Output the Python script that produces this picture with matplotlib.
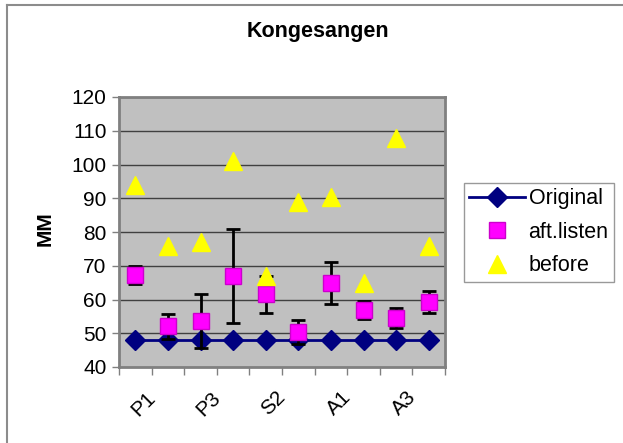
import matplotlib
matplotlib.use('Agg')
import matplotlib.pyplot as plt
import matplotlib.transforms as mtransforms
from matplotlib.lines import Line2D

# Data
categories = ['P1', 'P2', 'P3', 'S1', 'S2', 'S3', 'A1', 'A2', 'A3', 'A4']
original = [48, 48, 48, 48, 48, 48, 48, 48, 48, 48]
aft_listen = [67.3, 52.1, 53.5, 67, 61.5, 50.4, 65, 57, 54.6, 59.3]
aft_err = [2.7, 3.7, 8.0, 14.0, 5.5, 3.6, 6.2, 2.7, 3.0, 3.2]
before = [94, 76, 77, 101, 67, 89, 90.5, 65, 108, 76]

x = list(range(len(categories)))

plt.rcParams['font.family'] = ['Liberation Sans', 'DejaVu Sans']

fig = plt.figure(figsize=(6.23, 4.43), dpi=100)
ax = fig.add_axes([119 / 623, 1 - 367 / 443, 326 / 623, 270 / 443])
ax.set_facecolor('#c0c0c0')

# Outer chart border (only left and top are visible in the crop)
bx, by = 7 / 623, 1 - 5 / 443
fig.lines.append(Line2D([bx, bx], [0, by], transform=fig.transFigure,
                        color='#8c8c8c', linewidth=1.5))
fig.lines.append(Line2D([bx, 1], [by, by], transform=fig.transFigure,
                        color='#8c8c8c', linewidth=1.5))

# Gridlines
for v in range(50, 121, 10):
    ax.axhline(v, color='#404040', linewidth=1, zorder=1)

ax.plot(x, original, color='#000080', marker='D', markersize=10,
        linewidth=2, label='Original', zorder=3)
ax.errorbar(x, aft_listen, yerr=aft_err, fmt='none', ecolor='black',
            elinewidth=2, capsize=5, capthick=2, zorder=4)
ax.plot(x, aft_listen, linestyle='none', marker='s', markersize=11.5,
        color='#ff00ff', markeredgecolor='#cc00cc', label='aft.listen', zorder=5)
ax.plot(x, before, linestyle='none', marker='^', markersize=13,
        color='#ffff00', markeredgecolor='#ffff00', label='before', zorder=5)

ax.set_xlim(-0.5, len(categories) - 0.5)
ax.set_ylim(40, 120)
ax.set_yticks(range(40, 121, 10))
ax.tick_params(axis='y', labelsize=15, length=5, width=1, color='#808080', pad=4)

ax.set_xticks(x)
ax.set_xticklabels([c if i % 2 == 0 else '' for i, c in enumerate(categories)],
                   rotation=45, ha='right', rotation_mode='anchor', fontsize=15)
ax.tick_params(axis='x', length=0, pad=15)
shift = mtransforms.ScaledTranslation(10 / 100, 0, fig.dpi_scale_trans)
for lbl in ax.get_xticklabels():
    lbl.set_transform(lbl.get_transform() + shift)
ax.set_xticks([i - 0.5 for i in range(len(categories) + 1)], minor=True)
ax.tick_params(axis='x', which='minor', length=6, width=1, color='#808080')

for s in ax.spines.values():
    s.set_color('#808080')
    s.set_linewidth(2)

fig.text(318 / 623, 1 - 32 / 443, 'Kongesangen', ha='center', va='center',
         fontsize=15.5, fontweight='bold')
fig.text(45 / 623, 1 - 229 / 443, 'MM', ha='center', va='center',
         rotation=90, fontsize=15, fontweight='bold')

leg = fig.legend(loc='upper left', bbox_to_anchor=(464 / 623, 1 - 183 / 443),
                 fontsize=15.5, frameon=True, fancybox=False, handlelength=2.6,
                 borderpad=0.25, labelspacing=0.58, handletextpad=0.15,
                 borderaxespad=0)
leg.get_frame().set_edgecolor('#808080')
leg.get_frame().set_linewidth(1)

fig.savefig('out.png', dpi=100)
